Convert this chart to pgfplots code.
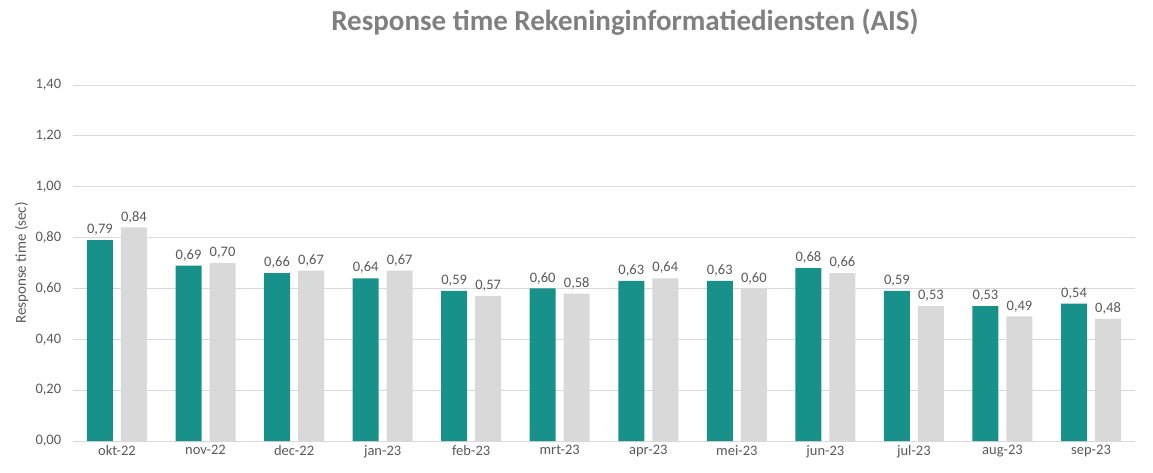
\documentclass[border=0pt]{standalone}
\usepackage{pgfplots}
\pgfplotsset{compat=1.18}
\usepackage{fontspec}
\setmainfont{Carlito}
\definecolor{teal1}{RGB}{23,145,137}
\definecolor{lgray}{RGB}{217,217,217}
\definecolor{txt}{RGB}{89,89,89}
\definecolor{ttl}{RGB}{128,128,128}
\pgfplotstableread{
x a b
0 0.79 0.84
1 0.69 0.70
2 0.66 0.67
3 0.64 0.67
4 0.59 0.57
5 0.60 0.58
6 0.63 0.64
7 0.63 0.60
8 0.68 0.66
9 0.59 0.53
10 0.53 0.49
11 0.54 0.48
}\datatable
\begin{document}
\begin{tikzpicture}[x=1pt,y=1pt]
\useasboundingbox (0,0) rectangle (1153,472);
\node[font=\fontsize{29}{33}\selectfont\bfseries, text=ttl] at (625,450) {Response time Rekeninginformatiediensten (AIS)};
\begin{axis}[
  at={(72.7pt,31pt)}, anchor=south west,
  scale only axis, width=1062.6pt, height=356pt,
  xmin=-0.5, xmax=11.5, ymin=0, ymax=1.4,
  ybar, bar width=26pt,
  xtick=data,
  xticklabels={okt-22,nov-22,dec-22,jan-23,feb-23,mrt-23,apr-23,mei-23,jun-23,jul-23,aug-23,sep-23},
  ytick={0,0.2,0.4,0.6,0.8,1.0,1.2,1.4},
  ymajorgrids, grid style={lgray, line width=0.8pt},
  axis x line*=bottom,
  x axis line style={draw=lgray, line width=0.8pt},
  axis y line*=left, y axis line style={draw=none},
  tick style={draw=none},
  major tick length=0pt,
  tick label style={font=\fontsize{14.5}{16}\selectfont, text=txt},
  /pgf/number format/use comma,
  /pgf/number format/fixed,
  /pgf/number format/fixed zerofill,
  /pgf/number format/precision=2,
  /pgf/number format/assume math mode=true,
  xticklabel style={yshift=-1pt},
  yticklabel style={xshift=-8pt},
  ylabel={Response time (sec)},
  every axis y label/.style={at={([xshift=-51pt]rel axis cs:0,0.5)}, rotate=90, anchor=center, font=\fontsize{15}{17}\selectfont, text=txt},
  nodes near coords,
  nodes near coords style={font=\fontsize{14.5}{16}\selectfont, text=txt, yshift=1pt},
]
\addplot[fill=teal1, draw=none, bar shift=-17pt] table[x=x,y=a] {\datatable};
\addplot[fill=lgray, draw=none, bar shift=17pt] table[x=x,y=b] {\datatable};
\end{axis}
\end{tikzpicture}
\end{document}
